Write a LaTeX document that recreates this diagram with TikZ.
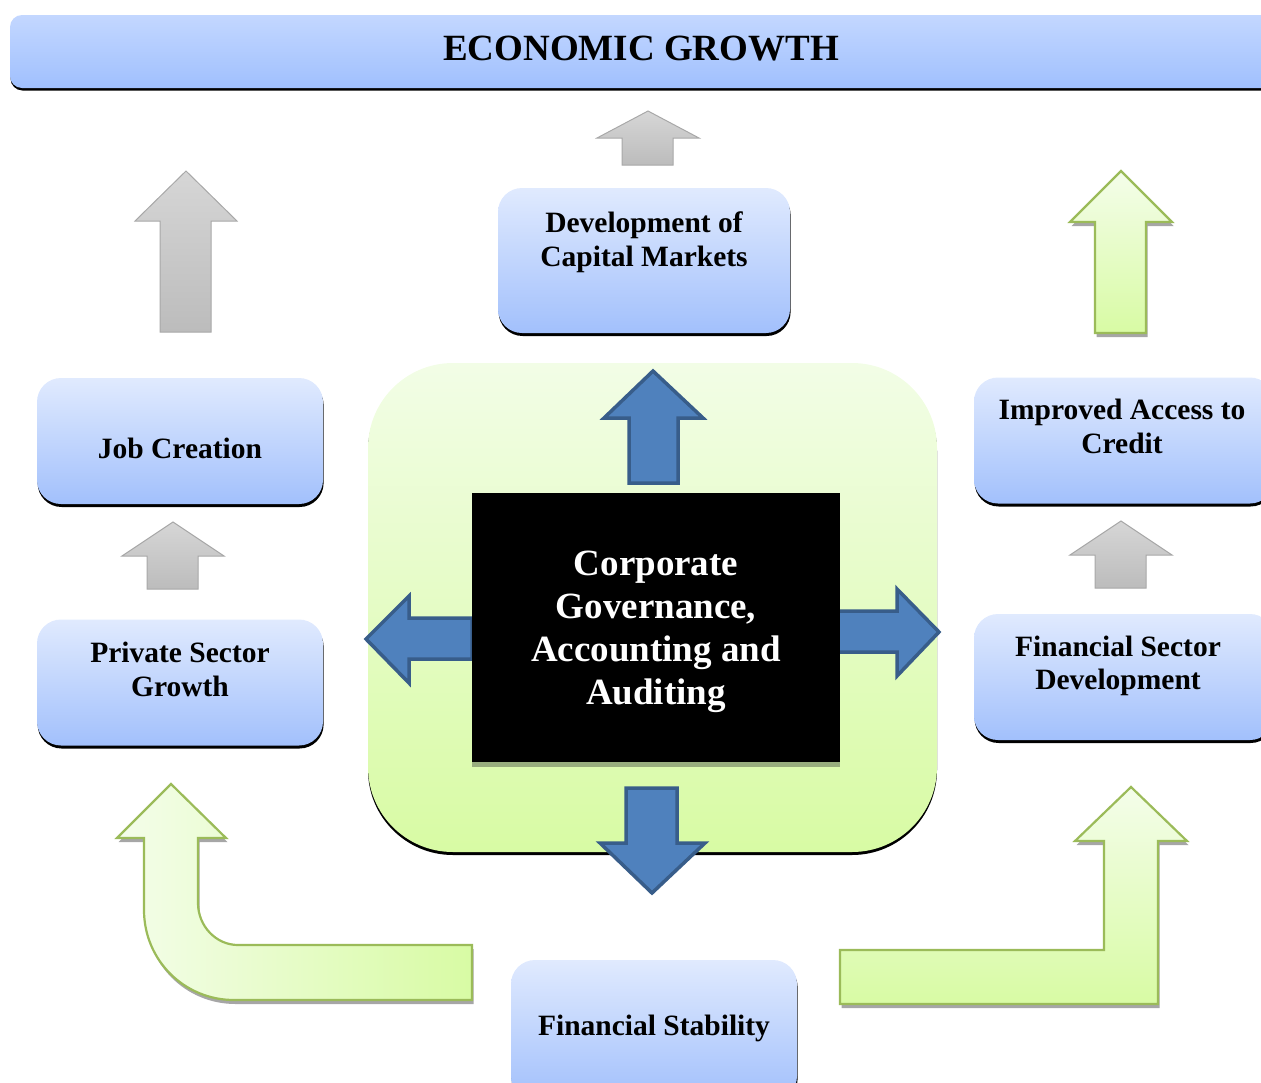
\documentclass[tikz,border=0pt]{standalone}
\usepackage{fontspec}
\setmainfont{Liberation Serif}
\usetikzlibrary{shadows}
\definecolor{boxtop}{HTML}{E0EAFE}
\definecolor{boxbot}{HTML}{A2C0FC}
\definecolor{bantop}{HTML}{C3D7FF}
\definecolor{banbot}{HTML}{A0C0FE}
\definecolor{pantop}{HTML}{F2FDE6}
\definecolor{panbot}{HTML}{D8FBA4}
\definecolor{garrtop}{HTML}{F4FDEA}
\definecolor{garrbot}{HTML}{D8FBA4}
\definecolor{garrline}{HTML}{9BBB59}
\definecolor{bluefill}{HTML}{4F81BD}
\definecolor{blueline}{HTML}{385D8A}
\definecolor{graytop}{HTML}{D6D6D6}
\definecolor{graybot}{HTML}{BCBCBC}
\definecolor{grayline}{HTML}{A8A8A8}
\definecolor{blkshadow}{HTML}{98AD7E}
\begin{document}
\begin{tikzpicture}[x=1pt,y=-1pt,
  bluebox/.style={rounded corners=24pt, top color=boxtop, bottom color=boxbot, draw=none,
    minimum width=286pt, minimum height=126pt, inner sep=0pt,
    drop shadow={shadow xshift=0.6pt, shadow yshift=-3pt, fill=black, opacity=1}},
  boxtext/.style={font=\bfseries\fontsize{29.5}{33.5}\selectfont, align=center, inner sep=0pt},
  bluearrow/.style={fill=bluefill, draw=blueline, line width=3.5pt, line join=miter},
  grayarrow/.style={top color=graytop, bottom color=graybot, draw=grayline, line width=1pt},
  greenarrow/.style={draw=garrline, line width=2.2pt, line join=miter,
    drop shadow={shadow xshift=1.5pt, shadow yshift=-4pt, fill=black!35, opacity=1}}]
\useasboundingbox (0,0) rectangle (1261,1082);

% top banner
\node[rounded corners=12pt, top color=bantop, bottom color=banbot, minimum width=1270pt, minimum height=73pt,
  inner sep=0pt, drop shadow={shadow xshift=0.5pt, shadow yshift=-2.5pt, fill=black, opacity=1}]
  (banner) at (645,51.5) {};
\node[font=\bfseries\fontsize{37}{40}\selectfont, inner sep=0pt] (bantext) at (641,49) {ECONOMIC GROWTH};

% green panel
\node[rounded corners=85pt, top color=pantop, bottom color=panbot, minimum width=569pt, minimum height=489pt,
  inner sep=0pt, drop shadow={shadow xshift=0pt, shadow yshift=-3pt, fill=black, opacity=1}]
  (panel) at (652.5,607.5) {};

% blue arrows around centre
\draw[bluearrow] (629,483) -- (629,418) -- (604,418) -- (653,371) -- (703,418) -- (678,418) -- (678,483) -- cycle;
\draw[bluearrow] (626,788) -- (677,788) -- (677,843) -- (705,843) -- (652,893) -- (600,843) -- (626,843) -- cycle;
\draw[bluearrow] (472,618) -- (409,618) -- (409,596) -- (366,639) -- (409,683) -- (409,659) -- (472,659) -- cycle;
\draw[bluearrow] (838,611) -- (897,611) -- (897,589) -- (939,632) -- (897,676) -- (897,652) -- (838,652) -- cycle;

% black central box
\node[fill=black, minimum width=368pt, minimum height=269pt, inner sep=0pt,
  drop shadow={shadow xshift=0pt, shadow yshift=-5pt, fill=blkshadow, opacity=1}]
  (core) at (656,627.5) {};
\node[text=white, align=center, inner sep=0pt, font=\bfseries\fontsize{37}{43}\selectfont]
  (coret) at (656,632) {Corporate\\Governance,\\Accounting and\\Auditing};

% blue boxes
\node[bluebox, minimum width=292pt, minimum height=145pt] (dev) at (644,260.5) {};
\node[boxtext] (devt) at (644,242) {Development of\\Capital Markets};
\node[bluebox] (job) at (180,441) {};
\node[boxtext] (jobt) at (180,448.5) {Job Creation};
\node[bluebox] (priv) at (180,682.5) {};
\node[boxtext] (privt) at (180,669.5) {Private Sector\\Growth};
\node[bluebox, minimum width=300pt] (impr) at (1124,440.5) {};
\node[boxtext] (imprt) at (1122,426.5) {Improved Access to\\Credit};
\node[bluebox, minimum width=300pt] (fsd) at (1124,677) {};
\node[boxtext] (fsdt) at (1118,666) {Financial Sector\\Development};
\node[bluebox, minimum height=140pt] (fst) at (654,1030) {};
\node[boxtext] (fstt) at (654,1028) {Financial Stability};

% gray arrows
\draw[grayarrow] (622,165) -- (622,138) -- (597,138) -- (648,111) -- (699,138) -- (673,138) -- (673,165) -- cycle;
\draw[grayarrow] (160,332) -- (160,221) -- (135,221) -- (186,171) -- (237,221) -- (211,221) -- (211,332) -- cycle;
\draw[grayarrow] (147,589) -- (147,556) -- (122,556) -- (173,522) -- (224,556) -- (198,556) -- (198,589) -- cycle;
\draw[grayarrow] (1095,588) -- (1095,555) -- (1070,555) -- (1121,521) -- (1172,555) -- (1146,555) -- (1146,588) -- cycle;

% green arrows
\draw[greenarrow, top color=garrtop, bottom color=garrbot]
  (1095,333) -- (1095,222) -- (1070,222) -- (1121,171) -- (1172,222) -- (1146,222) -- (1146,333) -- cycle;
\draw[greenarrow, left color=garrtop, right color=garrbot]
  (171,784) -- (226,838) -- (198,838) -- (198,903) .. controls (198,926) and (216,945) .. (238,945)
  -- (472,945) -- (472,1000) -- (234,1000) .. controls (184,1000) and (144,960) .. (144,910)
  -- (144,838) -- (117,838) -- cycle;
\draw[greenarrow, top color=garrtop, bottom color=garrbot]
  (840,950) -- (1104,950) -- (1104,841) -- (1075,841) -- (1131,787) -- (1187,841) -- (1158,841)
  -- (1158,1004) -- (840,1004) -- cycle;
\end{tikzpicture}
\end{document}
